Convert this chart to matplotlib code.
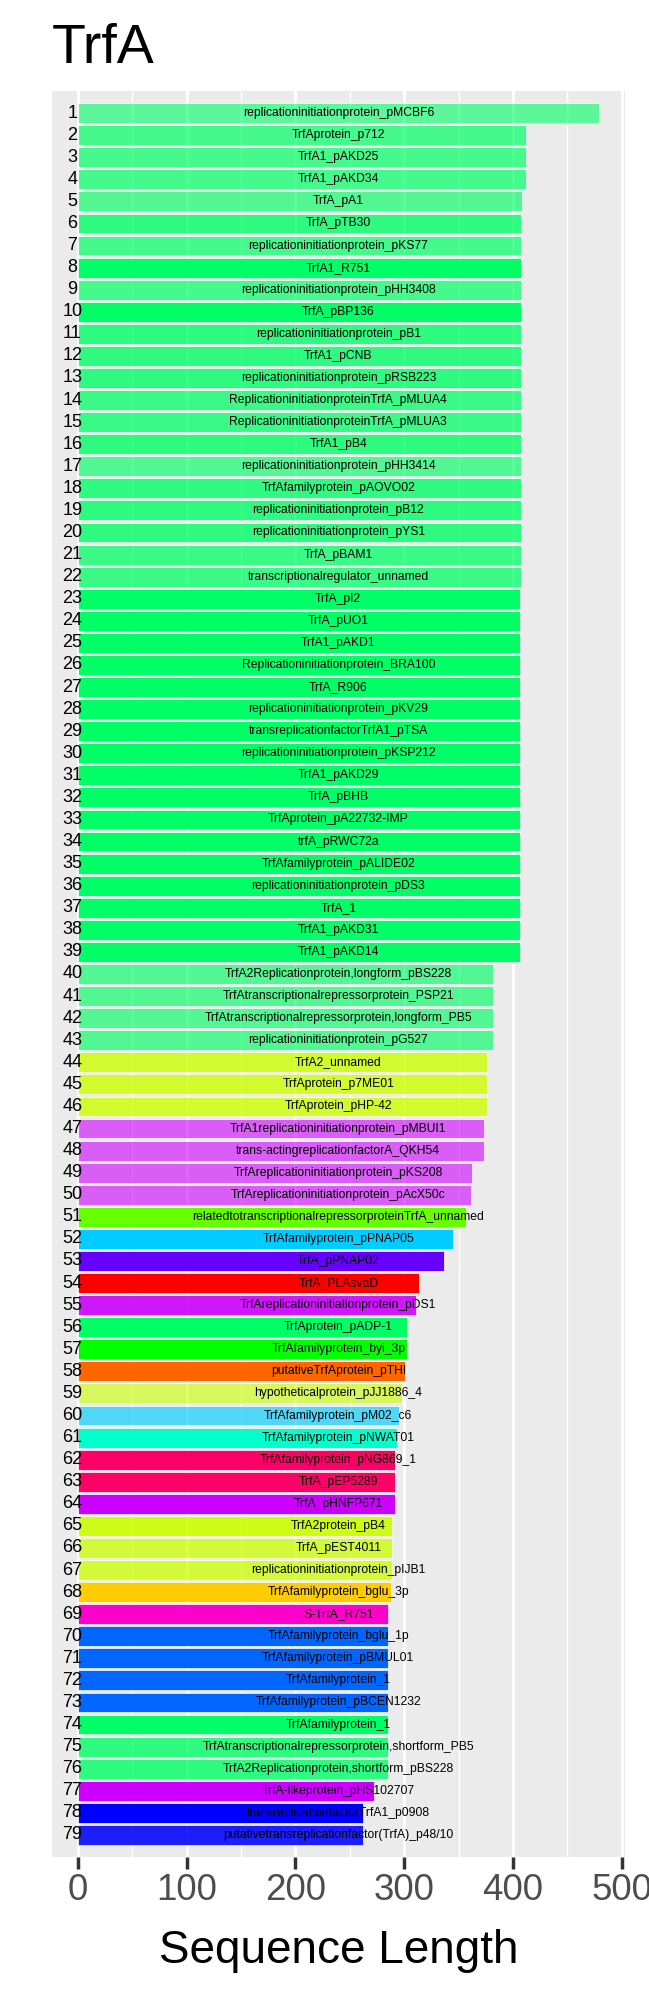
import matplotlib
matplotlib.use("Agg")
import matplotlib.pyplot as plt
from matplotlib.colors import to_rgba

title = "TrfA"
xlabel = "Sequence Length"

names = [
    "replicationinitiationprotein_pMCBF6", "TrfAprotein_p712", "TrfA1_pAKD25", "TrfA1_pAKD34",
    "TrfA_pA1", "TrfA_pTB30", "replicationinitiationprotein_pKS77", "TrfA1_R751",
    "replicationinitiationprotein_pHH3408", "TrfA_pBP136", "replicationinitiationprotein_pB1",
    "TrfA1_pCNB", "replicationinitiationprotein_pRSB223", "ReplicationinitiationproteinTrfA_pMLUA4",
    "ReplicationinitiationproteinTrfA_pMLUA3", "TrfA1_pB4", "replicationinitiationprotein_pHH3414",
    "TrfAfamilyprotein_pAOVO02", "replicationinitiationprotein_pB12", "replicationinitiationprotein_pYS1",
    "TrfA_pBAM1", "transcriptionalregulator_unnamed", "TrfA_pI2", "TrfA_pUO1", "TrfA1_pAKD1",
    "Replicationinitiationprotein_BRA100", "TrfA_R906", "replicationinitiationprotein_pKV29",
    "transreplicationfactorTrfA1_pTSA", "replicationinitiationprotein_pKSP212", "TrfA1_pAKD29",
    "TrfA_pBHB", "TrfAprotein_pA22732-IMP", "trfA_pRWC72a", "TrfAfamilyprotein_pALIDE02",
    "replicationinitiationprotein_pDS3", "TrfA_1", "TrfA1_pAKD31", "TrfA1_pAKD14",
    "TrfA2Replicationprotein,longform_pBS228", "TrfAtranscriptionalrepressorprotein_PSP21",
    "TrfAtranscriptionalrepressorprotein,longform_PB5", "replicationinitiationprotein_pG527",
    "TrfA2_unnamed", "TrfAprotein_p7ME01", "TrfAprotein_pHP-42",
    "TrfA1replicationinitiationprotein_pMBUI1", "trans-actingreplicationfactorA_QKH54",
    "TrfAreplicationinitiationprotein_pKS208", "TrfAreplicationinitiationprotein_pAcX50c",
    "relatedtotranscriptionalrepressorproteinTrfA_unnamed", "TrfAfamilyprotein_pPNAP05",
    "TrfA_pPNAP02", "TrfA_PLAsvaD", "TrfAreplicationinitiationprotein_pDS1", "TrfAprotein_pADP-1",
    "TrfAfamilyprotein_byi_3p", "putativeTrfAprotein_pTHI", "hypotheticalprotein_pJJ1886_4",
    "TrfAfamilyprotein_pM02_c6", "TrfAfamilyprotein_pNWAT01", "TrfAfamilyprotein_pNG869_1",
    "TrfA_pEP5289", "TrfA_pHNFP671", "TrfA2protein_pB4", "TrfA_pEST4011",
    "replicationinitiationprotein_pIJB1", "TrfAfamilyprotein_bglu_3p", "S-TrfA_R751",
    "TrfAfamilyprotein_bglu_1p", "TrfAfamilyprotein_pBMUL01", "TrfAfamilyprotein_1",
    "TrfAfamilyprotein_pBCEN1232", "TrfAfamilyprotein_1",
    "TrfAtranscriptionalrepressorprotein,shortform_PB5", "TrfA2Replicationprotein,shortform_pBS228",
    "TrfA-likeprotein_pHS102707", "transreplicationfactorTrfA1_p0908",
    "putativetransreplicationfactor(TrfA)_p48/10",
]

lengths = [
    479, 412, 412, 412, 408, 407, 407, 407, 407, 407,
    407, 407, 407, 407, 407, 407, 407, 407, 407, 407,
    407, 407, 406, 406, 406, 406, 406, 406, 406, 406,
    406, 406, 406, 406, 406, 406, 406, 406, 406, 382,
    382, 382, 382, 376, 376, 376, 373, 373, 362, 361,
    357, 345, 337, 314, 311, 303, 303, 301, 298, 295,
    293, 292, 292, 292, 289, 289, 289, 288, 285, 285,
    285, 285, 285, 285, 285, 285, 272, 262, 262,
]

base_colors = (
    ["#00FF66"] * 43
    + ["#CCFF00"] * 3
    + ["#CC00FF"] * 4
    + ["#66FF00", "#00CCFF", "#6600FF", "#FF0000", "#CC00FF", "#00FF66", "#00FF00",
       "#FF6600", "#CCFF00", "#00CCFF", "#00FFCC", "#FF0066", "#FF0066", "#CC00FF"]
    + ["#CCFF00"] * 3
    + ["#FFCC00", "#FF00CC"]
    + ["#0066FF"] * 4
    + ["#00FF66"] * 3
    + ["#CC00FF", "#0000FF", "#0000FF"]
)

alphas = [
    0.6, 0.7, 0.7, 0.7, 0.65, 0.8, 0.7, 1.0, 0.7, 1.0,
    0.8, 0.8, 0.8, 0.75, 0.75, 0.8, 0.65, 0.8, 0.8, 0.8,
    0.75, 0.75, 1.0, 1.0, 1.0, 1.0, 1.0, 1.0, 1.0, 1.0,
    1.0, 1.0, 1.0, 1.0, 1.0, 1.0, 1.0, 1.0, 1.0, 0.65,
    0.65, 0.65, 0.65, 0.8, 0.8, 0.8, 0.6, 0.6, 0.6, 0.6,
    1.0, 1.0, 1.0, 1.0, 0.9, 1.0, 1.0, 1.0, 0.6, 0.65,
    1.0, 1.0, 1.0, 1.0, 0.9, 0.75, 0.75, 1.0, 1.0, 1.0,
    1.0, 1.0, 1.0, 1.0, 0.8, 0.8, 1.0, 1.0, 0.88,
]

major_ticks = [0, 100, 200, 300, 400, 500]
minor_ticks = [50, 150, 250, 350, 450]

plt.rcParams["font.family"] = ["Liberation Sans", "DejaVu Sans"]

W, H = 649, 1996
fig = plt.figure(figsize=(W / 100, H / 100), dpi=100)
pl, pr, pt, pb = 51.7, 625.0, 91.0, 1857.0
ax = fig.add_axes([pl / W, 1 - pb / H, (pr - pl) / W, (pb - pt) / H])
ax.set_facecolor("#EBEBEB")

n = len(lengths)
ypos = list(range(1, n + 1))
cols = [to_rgba(c, a) for c, a in zip(base_colors, alphas)]
ax.barh(ypos, lengths, height=0.9, color=cols, edgecolor="white", linewidth=0.5, zorder=2)

mx = max(lengths)
for y, name in zip(ypos, names):
    ax.text(mx / 2, y, name, ha="center", va="center", fontsize=8.7, color="black", zorder=3)
    ax.text(-5, y, str(y), ha="center", va="center", fontsize=13, color="black", zorder=3)

ax.set_xlim(-0.05 * mx, mx * 1.05)
ax.set_ylim(n + 1, 0)
ax.set_xticks(major_ticks)
ax.set_xticks(minor_ticks, minor=True)
ax.set_yticks([])
ax.grid(axis="x", which="major", color="white", linewidth=2.0, zorder=1)
ax.grid(axis="x", which="minor", color="white", linewidth=1.0, zorder=1)
ax.set_axisbelow(True)
for s in ax.spines.values():
    s.set_visible(False)
ax.tick_params(axis="x", which="major", length=8.4, width=2.5, color="#333333",
               labelsize=26.5, labelcolor="#4D4D4D", pad=3)
ax.tick_params(axis="x", which="minor", length=0)

fig.text(pl / W, 1 - 63 / H, title, fontsize=40, ha="left", va="baseline")
fig.text((pl + pr) / 2 / W, 1 - 1963 / H, xlabel, fontsize=33, ha="center", va="baseline")

fig.savefig("out.png", dpi=100)
